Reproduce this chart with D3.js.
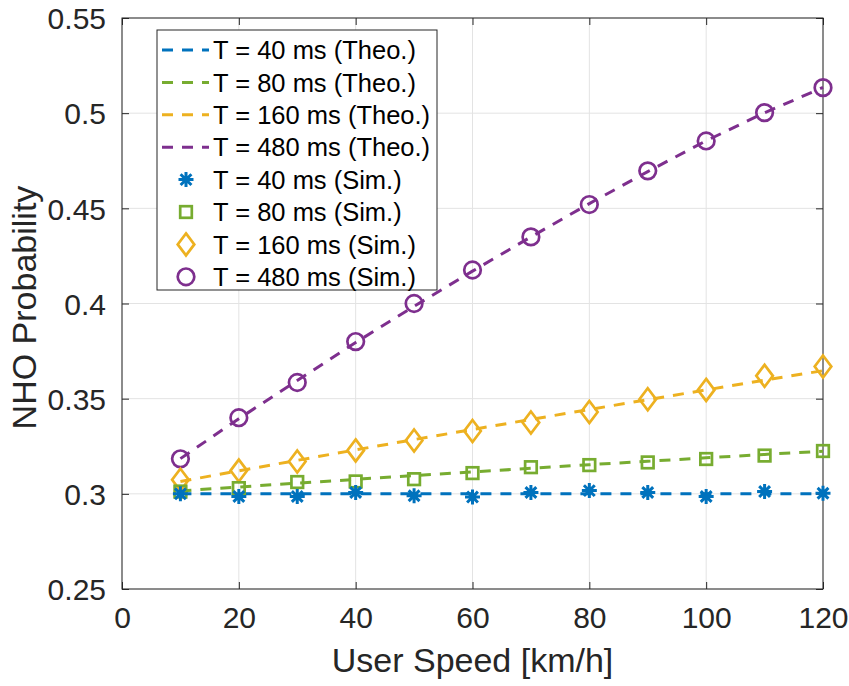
<!DOCTYPE html>
<html>
<head>
<meta charset="utf-8">
<script src="https://cdn.jsdelivr.net/npm/d3@7/dist/d3.min.js"></script>
<style>
    body { margin: 0; background: #fff; }
    svg { display: block; font-family: "Liberation Sans", Arial, sans-serif; }
</style>
</head>
<body>
<svg width="849" height="686"></svg>
<script>
/*global d3 */
"use strict";

var speeds = [10, 20, 30, 40, 50, 60, 70, 80, 90, 100, 110, 120];

var theo40 = [0.3, 0.3, 0.3, 0.3, 0.3, 0.3, 0.3, 0.3, 0.3, 0.3, 0.3, 0.3];
var theo80 = [0.3015, 0.3036, 0.3056, 0.3076, 0.3096, 0.3115,
        0.3134, 0.3153, 0.3171, 0.3189, 0.3207, 0.3224];
var theo160 = [0.3065, 0.3121, 0.3176, 0.3231, 0.3285, 0.3338,
        0.3391, 0.3443, 0.3495, 0.3546, 0.3597, 0.3647];
var theo480 = [0.3185, 0.3395, 0.3595, 0.3795, 0.3985, 0.4170,
        0.4350, 0.4525, 0.4693, 0.4855, 0.5002, 0.5135];

var sim40 = [0.3000, 0.2986, 0.2986, 0.3007, 0.2990, 0.2983,
        0.3007, 0.3017, 0.3007, 0.2986, 0.3012, 0.3003];
var sim80 = [0.3012, 0.3030, 0.3062, 0.3065, 0.3077, 0.3109,
        0.3140, 0.3151, 0.3165, 0.3183, 0.3201, 0.3225];
var sim160 = [0.3074, 0.3122, 0.3170, 0.3228, 0.3280, 0.3330,
        0.3375, 0.3430, 0.3497, 0.3546, 0.3620, 0.3669];
var sim480 = [0.3184, 0.3400, 0.3585, 0.3800, 0.4000, 0.4176,
        0.4350, 0.4520, 0.4697, 0.4854, 0.5003, 0.5134];

var xTicks = [0, 20, 40, 60, 80, 100, 120];
var yTicks = [0.25, 0.3, 0.35, 0.4, 0.45, 0.5, 0.55];
var yTickLabels = ["0.25", "0.3", "0.35", "0.4", "0.45", "0.5", "0.55"];

var theoLabels = ["T = 40 ms (Theo.)", "T = 80 ms (Theo.)",
        "T = 160 ms (Theo.)", "T = 480 ms (Theo.)"];
var simLabels = ["T = 40 ms (Sim.)", "T = 80 ms (Sim.)",
        "T = 160 ms (Sim.)", "T = 480 ms (Sim.)"];

var colors = ["#0072bd", "#77ac30", "#edb120", "#7e2f8e"];
var markers = ["star", "square", "diamond", "circle"];

var theoSeries = [theo40, theo80, theo160, theo480];
var simSeries = [sim40, sim80, sim160, sim480];

var margin = {
    top: 18, // px
    left: 122, // px
    bottom: 97, // px
    right: 26 // px
};
var width = 849;
var height = 686;
var axisColor = "#262626";
var tickLength = 7; // px
var dash = "11,9";

var svg = d3.select("svg");

var x = d3.scaleLinear()
    .domain([0, 120])
    .range([margin.left, width - margin.right]);
var y = d3.scaleLinear()
    .domain([0.25, 0.55])
    .range([height - margin.bottom, margin.top]);

var x0 = x.range()[0];
var x1 = x.range()[1];
var y0 = y.range()[0];
var y1 = y.range()[1];

// grid
svg.append("g")
    .selectAll("line")
    .data(xTicks)
    .join("line")
    .attr("x1", (d) => x(d))
    .attr("x2", (d) => x(d))
    .attr("y1", y1)
    .attr("y2", y0)
    .attr("stroke", "#e3e3e3")
    .attr("stroke-width", 1);
svg.append("g")
    .selectAll("line")
    .data(yTicks)
    .join("line")
    .attr("x1", x0)
    .attr("x2", x1)
    .attr("y1", (d) => y(d))
    .attr("y2", (d) => y(d))
    .attr("stroke", "#e3e3e3")
    .attr("stroke-width", 1);

// axes, ticks pointing inwards on all four sides
var addAxis = function (axis, tx, ty, labels) {
    var g = svg.append("g")
        .attr("transform", "translate(" + tx + "," + ty + ")")
        .call(axis);
    g.select(".domain").remove();
    g.selectAll(".tick line").attr("stroke", axisColor);
    if (labels) {
        g.selectAll(".tick text")
            .attr("fill", axisColor)
            .attr("font-size", 30);
    } else {
        g.selectAll(".tick text").remove();
    }
    return g;
};

var bottomAxis = addAxis(
    d3.axisBottom(x).tickValues(xTicks).tickSizeInner(-tickLength)
        .tickSizeOuter(0).tickPadding(18),
    0, y0, true
);
bottomAxis.selectAll(".tick text").attr("dy", "0.71em");
addAxis(
    d3.axisTop(x).tickValues(xTicks).tickSizeInner(-tickLength)
        .tickSizeOuter(0),
    0, y1, false
);
var leftAxis = addAxis(
    d3.axisLeft(y).tickValues(yTicks).tickSizeInner(-tickLength)
        .tickSizeOuter(0).tickPadding(16)
        .tickFormat((d, i) => yTickLabels[i]),
    x0, 0, true
);
leftAxis.selectAll(".tick text").attr("dy", "0.36em");
addAxis(
    d3.axisRight(y).tickValues(yTicks).tickSizeInner(-tickLength)
        .tickSizeOuter(0),
    x1, 0, false
);

svg.append("rect")
    .attr("x", x0)
    .attr("y", y1)
    .attr("width", x1 - x0)
    .attr("height", y0 - y1)
    .attr("fill", "none")
    .attr("stroke", axisColor)
    .attr("stroke-width", 1);

// axis labels
svg.append("text")
    .attr("x", (x0 + x1) / 2)
    .attr("y", 672)
    .attr("text-anchor", "middle")
    .attr("font-size", 34)
    .attr("fill", axisColor)
    .text("User Speed [km/h]");
svg.append("text")
    .attr("transform", "translate(36," + ((y0 + y1) / 2 + 4) + ") rotate(-90)")
    .attr("text-anchor", "middle")
    .attr("font-size", 34)
    .attr("fill", axisColor)
    .text("NHO Probability");

// markers
var markerShape = function (sel, kind, color) {
    var s;
    var d;
    if (kind === "circle") {
        sel.append("circle").attr("r", 8.3);
    } else if (kind === "square") {
        sel.append("rect")
            .attr("x", -5.8).attr("y", -5.8)
            .attr("width", 11.6).attr("height", 11.6);
    } else if (kind === "diamond") {
        sel.append("path").attr("d", "M0,-11L8.3,0L0,11L-8.3,0Z");
    } else {
        s = 7.5;
        d = s * 0.72;
        sel.append("path").attr("d",
                "M" + (-s) + ",0H" + s + "M0," + (-s) + "V" + s +
                "M" + (-d) + "," + (-d) + "L" + d + "," + d +
                "M" + (-d) + "," + d + "L" + d + "," + (-d));
    }
    sel.selectAll("*")
        .attr("fill", "none")
        .attr("stroke", color)
        .attr("stroke-width", kind === "star" ? 3 : 2.7);
};

var line = d3.line()
    .x((d, i) => x(speeds[i]))
    .y((d) => y(d));

var plot = svg.append("g");

theoSeries.forEach(function (series, k) {
    plot.append("path")
        .datum(series)
        .attr("d", line)
        .attr("fill", "none")
        .attr("stroke", colors[k])
        .attr("stroke-width", 3)
        .attr("stroke-dasharray", dash);
});

[3, 2, 1, 0].forEach(function (k) {
    plot.append("g")
        .selectAll("g")
        .data(simSeries[k])
        .join("g")
        .attr("transform", (d, i) =>
                "translate(" + x(speeds[i]) + "," + y(d) + ")")
        .each(function () {
            markerShape(d3.select(this), markers[k], colors[k]);
        });
});

// legend
var legend = {
    left: 157,
    top: 30,
    width: 280,
    height: 260,
    row: 32.4,
    firstRow: 50
};
var legendG = svg.append("g");
legendG.append("rect")
    .attr("x", legend.left)
    .attr("y", legend.top)
    .attr("width", legend.width)
    .attr("height", legend.height)
    .attr("fill", "#fff")
    .attr("stroke", axisColor)
    .attr("stroke-width", 1);

var legendRows = theoLabels.map((t, k) => ({label: t, k: k, theo: true}))
    .concat(simLabels.map((t, k) => ({label: t, k: k, theo: false})));

legendRows.forEach(function (r, i) {
    var cy = legend.firstRow + i * legend.row;
    if (r.theo) {
        legendG.append("line")
            .attr("x1", 162).attr("x2", 209)
            .attr("y1", cy).attr("y2", cy)
            .attr("stroke", colors[r.k])
            .attr("stroke-width", 3)
            .attr("stroke-dasharray", dash);
    } else {
        markerShape(
            legendG.append("g")
                .attr("transform", "translate(186," + cy + ")"),
            markers[r.k],
            colors[r.k]
        );
    }
    legendG.append("text")
        .attr("x", 213)
        .attr("y", cy)
        .attr("dy", "0.36em")
        .attr("font-size", 25.5)
        .attr("fill", "#000")
        .text(r.label);
});
</script>
</body>
</html>
